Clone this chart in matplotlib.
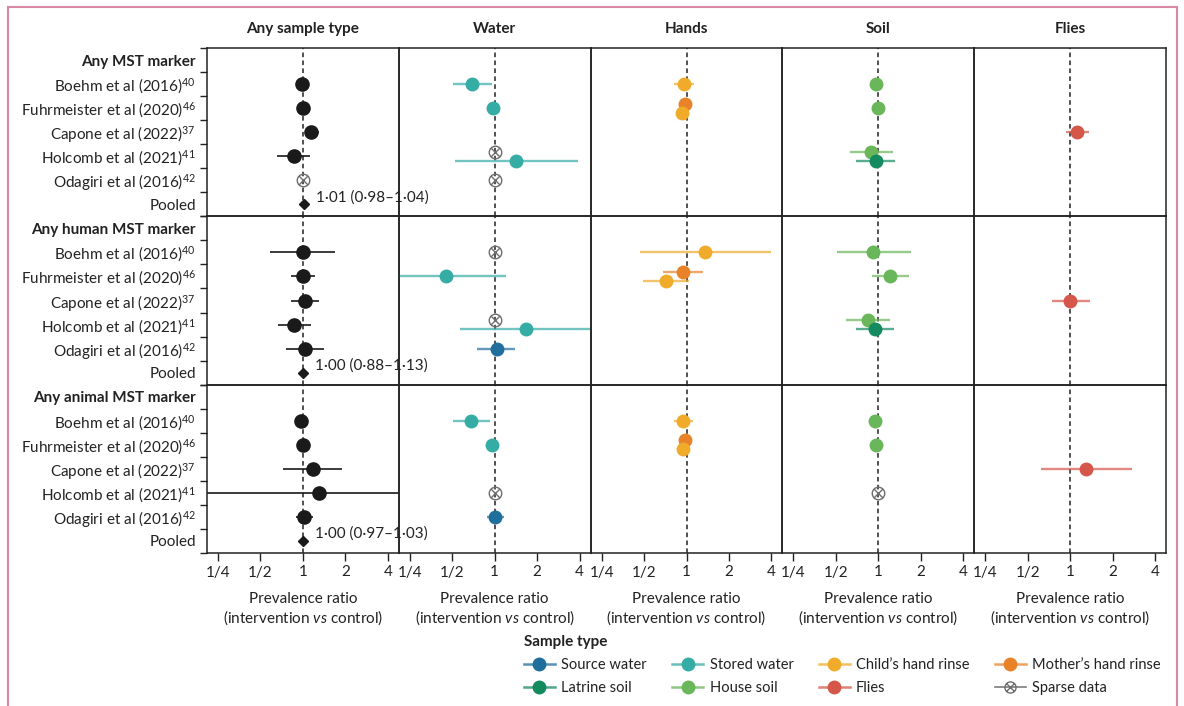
import matplotlib
matplotlib.use('Agg')
import matplotlib.pyplot as plt
from matplotlib.lines import Line2D
from matplotlib.path import Path
from matplotlib.patches import Rectangle
from matplotlib.colors import to_rgba
import numpy as np

plt.rcParams['font.family'] = ['Lato', 'DejaVu Sans']
plt.rcParams['font.size'] = 11
plt.rcParams['mathtext.fontset'] = 'custom'
plt.rcParams['mathtext.rm'] = 'Lato'
plt.rcParams['mathtext.it'] = 'Lato:italic'
plt.rcParams['mathtext.bf'] = 'Lato:bold'

panels = ['Any sample type', 'Water', 'Hands', 'Soil', 'Flies']
groups = ['Any MST marker', 'Any human MST marker', 'Any animal MST marker']
studies = ['Boehm et al (2016)', 'Fuhrmeister et al (2020)', 'Capone et al (2022)',
           'Holcomb et al (2021)', 'Odagiri et al (2016)']
refs = ['40', '46', '37', '41', '42']

# pooled estimate (any sample type), one per marker group
pooled_pr = [1.01, 1.00, 1.00]
pooled_lo = [0.98, 0.88, 0.97]
pooled_hi = [1.04, 1.13, 1.03]

# rows: (marker group, study index, sample type, PR, lower, upper)
# sample type 'sparse' = sparse data, no estimate
any_type = [
    (0, 0, 'all', 0.99, 0.96, 1.02),
    (0, 1, 'all', 1.00, 0.97, 1.03),
    (0, 2, 'all', 1.14, 1.07, 1.30),
    (0, 3, 'all', 0.86, 0.65, 1.12),
    (0, 4, 'sparse', 1.0, None, None),
    (1, 0, 'all', 1.00, 0.58, 1.70),
    (1, 1, 'all', 1.00, 0.82, 1.22),
    (1, 2, 'all', 1.04, 0.82, 1.30),
    (1, 3, 'all', 0.87, 0.67, 1.15),
    (1, 4, 'all', 1.04, 0.76, 1.41),
    (2, 0, 'all', 0.97, 0.95, 1.00),
    (2, 1, 'all', 1.00, 0.98, 1.02),
    (2, 2, 'all', 1.18, 0.72, 1.90),
    (2, 3, 'all', 1.30, 0.05, 30.0),
    (2, 4, 'all', 1.02, 0.89, 1.18),
]

water = [
    (0, 0, 'stored', 0.69, 0.51, 0.95),
    (0, 1, 'stored', 0.97, 0.94, 1.00),
    (0, 3, 'sparse', 1.0, None, None),
    (0, 3, 'stored', 1.41, 0.52, 3.90),
    (0, 4, 'sparse', 1.0, None, None),
    (1, 0, 'sparse', 1.0, None, None),
    (1, 1, 'stored', 0.45, 0.10, 1.20),
    (1, 3, 'sparse', 1.0, None, None),
    (1, 3, 'stored', 1.68, 0.57, 8.00),
    (1, 4, 'source', 1.03, 0.75, 1.40),
    (2, 0, 'stored', 0.68, 0.51, 0.93),
    (2, 1, 'stored', 0.96, 0.94, 0.99),
    (2, 3, 'sparse', 1.0, None, None),
    (2, 4, 'source', 1.01, 0.88, 1.17),
]

hands = [
    (0, 0, 'child', 0.96, 0.82, 1.13),
    (0, 1, 'mother', 0.98, 0.95, 1.01),
    (0, 1, 'child', 0.93, 0.90, 0.96),
    (1, 0, 'child', 1.35, 0.47, 3.97),
    (1, 1, 'mother', 0.95, 0.68, 1.32),
    (1, 1, 'child', 0.71, 0.49, 1.05),
    (2, 0, 'child', 0.95, 0.81, 1.12),
    (2, 1, 'mother', 0.97, 0.95, 0.99),
    (2, 1, 'child', 0.95, 0.93, 0.97),
]

soil = [
    (0, 0, 'house', 0.97, 0.94, 1.00),
    (0, 1, 'house', 0.99, 0.96, 1.02),
    (0, 3, 'house', 0.89, 0.63, 1.27),
    (0, 3, 'latrine', 0.96, 0.70, 1.31),
    (1, 0, 'house', 0.92, 0.51, 1.70),
    (1, 1, 'house', 1.21, 0.90, 1.65),
    (1, 3, 'house', 0.85, 0.59, 1.22),
    (1, 3, 'latrine', 0.95, 0.69, 1.29),
    (2, 0, 'house', 0.95, 0.87, 1.06),
    (2, 1, 'house', 0.97, 0.94, 1.00),
    (2, 3, 'sparse', 1.0, None, None),
]

flies = [
    (0, 2, 'flies', 1.12, 0.93, 1.36),
    (1, 2, 'flies', 1.00, 0.75, 1.38),
    (2, 2, 'flies', 1.30, 0.62, 2.74),
]

panel_data = [any_type, water, hands, soil, flies]

colors = {'source': '#1f6e9c', 'stored': '#35aca4', 'child': '#f0ab2b',
          'mother': '#e8832a', 'latrine': '#148a5f', 'house': '#6ab65a',
          'flies': '#d4574a', 'all': '#1a1a1a', 'sparse': '#6e6e6e'}
legend_names = {'source': 'Source water', 'stored': 'Stored water',
                'child': "Child\u2019s hand rinse", 'mother': "Mother\u2019s hand rinse",
                'latrine': 'Latrine soil', 'house': 'House soil', 'flies': 'Flies',
                'sparse': 'Sparse data'}
# top-to-bottom order when two estimates share a row
stack_order = ['sparse', 'mother', 'child', 'house', 'latrine', 'source', 'stored', 'flies', 'all']

# circle with a cross for sparse data
circ = Path.unit_circle()
cross = Path([(-0.707, -0.707), (0.707, 0.707), (-0.707, 0.707), (0.707, -0.707)],
             [Path.MOVETO, Path.LINETO, Path.MOVETO, Path.LINETO])
sparse_marker = Path.make_compound_path(circ, cross)

fig, axs = plt.subplots(3, 5, figsize=(11.84, 7.06), dpi=100, sharex=True)
fig.subplots_adjust(left=207/1184, right=1166/1184, top=1-48/706, bottom=1-553/706,
                    wspace=0, hspace=0)

txt = '#222222'
lim = 2 ** 2.26
for g in range(3):
    for p in range(5):
        ax = axs[g, p]
        ax.set_facecolor('none')
        ax.set_xscale('log', base=2)
        ax.set_xlim(1/lim, lim)
        ax.set_ylim(6.5, -0.5)
        ax.axvline(1, color=txt, ls=(0, (3, 2.2)), lw=1.1, zorder=1)
        for s in ax.spines.values():
            s.set_linewidth(1.1)
            s.set_color(txt)
        if p == 0:
            ax.set_yticks(np.arange(-0.5, 7, 1))
            ax.set_yticklabels([''] * 8)
            ax.tick_params(axis='y', which='major', length=5, width=1, color=txt)
            labels = [groups[g]] + ['%s$^{%s}$' % (s, r) for s, r in zip(studies, refs)] + ['Pooled']
            ax.set_yticks(np.arange(7), minor=True)
            ax.set_yticklabels(labels, minor=True, fontsize=11, color=txt)
            ax.tick_params(axis='y', which='minor', length=0, pad=8)
            ax.get_yticklabels(minor=True)[0].set_fontweight('bold')
        else:
            ax.tick_params(axis='y', which='both', left=False, labelleft=False)
        if g < 2:
            ax.tick_params(axis='x', which='both', bottom=False, labelbottom=False)
        else:
            ax.set_xticks([0.25, 0.5, 1, 2, 4])
            ax.set_xticklabels(['1/4', '1/2', '1', '2', '4'], fontsize=11, color=txt)
            ax.tick_params(axis='x', which='major', length=6, width=1, pad=3, color=txt)
            ax.tick_params(axis='x', which='minor', bottom=False)
            ax.set_xlabel('Prevalence ratio\n(intervention $\\mathit{vs}$ control)',
                          fontsize=11, color=txt, labelpad=9, linespacing=1.15)
        if g == 0:
            ax.set_title(panels[p], fontweight='bold', fontsize=11, pad=11, color=txt)

    # pooled diamond and label
    ax0 = axs[g, 0]
    ax0.plot(pooled_pr[g], 6, marker='D', ms=5.5, color='#1a1a1a', zorder=4)
    ax0.annotate('%s (%s\u2013%s)' % tuple(('%.2f' % v).replace('.', '\u00b7')
                                          for v in (pooled_pr[g], pooled_lo[g], pooled_hi[g])),
                 (pooled_pr[g], 6), xytext=(9, 5), textcoords='offset points',
                 ha='left', va='center', fontsize=11, color=txt,
                 annotation_clip=False, zorder=5)

for p, rows in enumerate(panel_data):
    for g in range(3):
        for st in range(5):
            cell = [r for r in rows if r[0] == g and r[1] == st]
            cell.sort(key=lambda r: stack_order.index(r[2]))
            n = len(cell)
            offs = np.linspace(-0.19, 0.19, n) if n > 1 else [0.0]
            for r, off in zip(cell, offs):
                ax = axs[g, p]
                y = st + 1 + off
                kind, pr, lo, hi = r[2], r[3], r[4], r[5]
                if kind == 'sparse':
                    ax.plot(pr, y, marker=sparse_marker, ms=9, mfc='none',
                            mec=colors['sparse'], mew=1.0, zorder=3)
                    continue
                c = colors[kind]
                if kind == 'all':
                    ax.plot([lo, hi], [y, y], color=c, lw=1.2, zorder=2, solid_capstyle='butt')
                    ax.plot(pr, y, 'o', ms=9.5, color=c, zorder=3)
                else:
                    ax.plot([lo, hi], [y, y], color=to_rgba(c, 0.7), lw=1.7, zorder=2,
                            solid_capstyle='butt')
                    ax.plot(pr, y, 'o', ms=9, color=c, zorder=3)

# legend
order = ['source', 'latrine', 'stored', 'house', 'child', 'flies', 'mother', 'sparse']
handles = []
for k in order:
    if k == 'sparse':
        h = Line2D([], [], color=to_rgba(colors[k], 0.9), lw=1.2, marker=sparse_marker,
                   ms=8, mfc='none', mec=colors[k], mew=1.0)
    else:
        h = Line2D([], [], color=to_rgba(colors[k], 0.75), lw=1.8, marker='o', ms=9,
                   mfc=colors[k], mec=colors[k])
    handles.append(h)
leg = fig.legend(handles, [legend_names[k] for k in order], ncol=4, frameon=False,
                 loc='upper left', bbox_to_anchor=(524/1184, 1-635/706), borderpad=0,
                 borderaxespad=0, handlelength=2.1, handletextpad=0.45, columnspacing=1.75,
                 labelspacing=0.62, fontsize=10.5, title='Sample type',
                 title_fontproperties={'weight': 'bold', 'size': 11}, alignment='left')
for t in leg.get_texts():
    t.set_color(txt)
leg.get_title().set_color(txt)

# page frame
fig.add_artist(Rectangle((8/1184, -0.05), 1169/1184, 1.05 - 7/706,
                         transform=fig.transFigure, fill=False, ec='#d98aa3', lw=1.5))

fig.savefig('out.png', dpi=100)
